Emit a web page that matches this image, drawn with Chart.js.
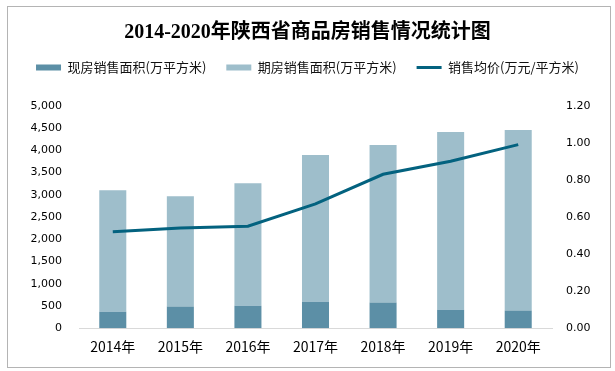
<!DOCTYPE html>
<html>
<head>
<meta charset="utf-8">
<script src="https://cdn.jsdelivr.net/npm/chart.js@4/dist/chart.umd.min.js"></script>
<style>
  html, body { margin: 0; padding: 0; background: #fff; }
  #wrap { width: 615px; height: 371px; position: relative; }
</style>
</head>
<body>
<div id="wrap"><canvas id="c" width="615" height="371"></canvas></div>
<script>
const categories = ['2014年', '2015年', '2016年', '2017年', '2018年', '2019年', '2020年'];
const existingArea = [370, 485, 505, 597, 575, 417, 395];      // 现房销售面积
const forwardArea = [2730, 2480, 2752, 3293, 3540, 3990, 4057]; // 期房销售面积
const avgPrice = [0.52, 0.54, 0.55, 0.67, 0.83, 0.90, 0.99];   // 销售均价
const leftTicks = [0, 500, 1000, 1500, 2000, 2500, 3000, 3500, 4000, 4500, 5000];
const rightTicks = [0, 0.2, 0.4, 0.6, 0.8, 1.0, 1.2];

const borderPlugin = {
  id: 'frame',
  beforeInit(chart) {
    const lg = chart.legend;
    if (lg) {
      const fit = lg.fit;
      lg.fit = function () { fit.call(this); this.height += 21.7; };
    }
  },
  beforeDraw(chart) {
    const ctx = chart.ctx;
    ctx.save();
    ctx.fillStyle = '#fff';
    ctx.fillRect(0, 0, chart.width, chart.height);
    ctx.strokeStyle = '#b4b4b4';
    ctx.lineWidth = 1;
    ctx.strokeRect(7.5, 6.5, 603, 361);
    ctx.restore();
  }
};

new Chart(document.getElementById('c'), {
  data: {
    labels: categories,
    datasets: [
      {
        type: 'line',
        label: '销售均价(万元/平方米)',
        data: avgPrice,
        yAxisID: 'y1',
        borderColor: '#03627f',
        backgroundColor: '#03627f',
        borderWidth: 3,
        pointRadius: 0,
        pointStyle: 'line',
        tension: 0,
        order: 0
      },
      {
        type: 'bar',
        label: '现房销售面积(万平方米)',
        data: existingArea,
        yAxisID: 'y',
        backgroundColor: '#5c8fa6',
        pointStyle: 'rect',
        stack: 's',
        categoryPercentage: 1,
        barPercentage: 0.4,
        order: 1
      },
      {
        type: 'bar',
        label: '期房销售面积(万平方米)',
        data: forwardArea,
        yAxisID: 'y',
        backgroundColor: '#9ebecb',
        pointStyle: 'rect',
        stack: 's',
        categoryPercentage: 1,
        barPercentage: 0.4,
        order: 2
      }
    ]
  },
  options: {
    responsive: false,
    animation: false,
    devicePixelRatio: 1,
    layout: { padding: { left: 0, right: 0, top: 0, bottom: 6 } },
    plugins: {
      title: {
        display: true,
        text: '2014-2020年陕西省商品房销售情况统计图',
        color: '#000',
        font: { family: "'Liberation Serif', 'Noto Sans CJK SC'", size: 20, weight: 'bold' },
        padding: { top: 21, bottom: -4 }
      },
      legend: {
        display: true,
        position: 'top',
        labels: {
          color: '#111',
          font: { family: "'Noto Sans CJK SC'", size: 13 },
          usePointStyle: true,
          pointStyleWidth: 25,
          boxHeight: 6,
          padding: 20,
          sort: (a, b) => {
            const order = [1, 2, 0];
            return order.indexOf(a.datasetIndex) - order.indexOf(b.datasetIndex);
          }
        }
      },
      tooltip: { enabled: false }
    },
    scales: {
      x: {
        stacked: true,
        grid: { display: false, drawTicks: false, tickLength: 0 },
        border: { display: true, color: '#d9d9d9', width: 1 },
        ticks: {
          color: '#000',
          padding: 10,
          font: { family: "'Noto Sans CJK SC'", size: 14 }
        }
      },
      y: {
        position: 'left',
        stacked: true,
        min: 0,
        max: 5000,
        afterFit(scale) { scale.width = 79; },
        afterBuildTicks(scale) { scale.ticks = leftTicks.map(v => ({ value: v })); },
        grid: { display: false, drawTicks: false, tickLength: 0 },
        border: { display: false },
        ticks: {
          color: '#000',
          padding: 17,
          font: { family: "'DejaVu Sans'", size: 11 },
          callback: v => Number(v).toLocaleString('en-US')
        }
      },
      y1: {
        position: 'right',
        min: 0,
        max: 1.2,
        afterFit(scale) { scale.width = 63; },
        afterBuildTicks(scale) { scale.ticks = rightTicks.map(v => ({ value: v })); },
        grid: { display: false, drawTicks: false, tickLength: 0 },
        border: { display: false },
        ticks: {
          color: '#000',
          padding: 14,
          font: { family: "'DejaVu Sans'", size: 11 },
          callback: v => Number(v).toFixed(2)
        }
      }
    }
  },
  plugins: [borderPlugin]
});
</script>
</body>
</html>
